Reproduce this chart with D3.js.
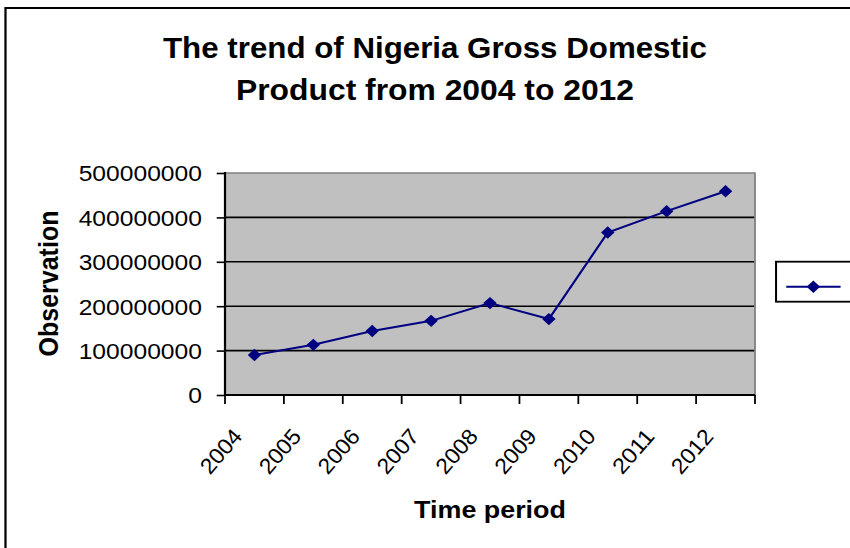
<!DOCTYPE html>
<html>
<head>
<meta charset="utf-8">
<script src="https://cdn.jsdelivr.net/npm/d3@7"></script>
<style>
  html, body { margin: 0; padding: 0; background: #fff; }
  svg { display: block; }
  text { font-family: "Liberation Sans", Arial, sans-serif; fill: #000; }
</style>
</head>
<body>
<div id="chart"></div>
<script>
// Nigeria GDP by year
const years = ["2004", "2005", "2006", "2007", "2008", "2009", "2010", "2011", "2012"];
const gdp = [90000000, 113000000, 144000000, 167000000, 207000000, 171000000, 366000000, 414000000, 459000000];
const yTicks = [0, 100000000, 200000000, 300000000, 400000000, 500000000];
const titleLines = ["The trend of Nigeria Gross Domestic", "Product from 2004 to 2012"];
const xTitle = "Time period";
const yTitle = "Observation";

// The drawing is laid out on a slightly narrower canvas and stretched to fill the window.
const SX = 1.12;
const VW = 850 / SX, VH = 548;
const svg = d3.select("#chart").append("svg")
  .attr("width", 850).attr("height", 548)
  .attr("viewBox", `0 0 ${VW} ${VH}`)
  .attr("preserveAspectRatio", "none");

const plot = { left: 200.9, right: 674.1, top: 173, bottom: 395 };

// chart frame
svg.append("rect")
  .attr("x", 4.9).attr("y", 8).attr("width", 1000).attr("height", 1000)
  .attr("fill", "none").attr("stroke", "#000").attr("stroke-width", 2);

// title
const titleWidths = [485.7, 355.4];
svg.append("g").selectAll("text").data(titleLines).join("text")
  .attr("x", 388.4).attr("y", (d, i) => 58 + i * 42)
  .attr("text-anchor", "middle")
  .attr("font-size", 30).attr("font-weight", "bold")
  .attr("textLength", (d, i) => titleWidths[i])
  .attr("lengthAdjust", "spacingAndGlyphs")
  .text(d => d);

const x = d3.scaleBand().domain(years).range([plot.left, plot.right]).padding(0);
const y = d3.scaleLinear().domain([0, 500000000]).range([plot.bottom, plot.top]);

// plot area
svg.append("rect")
  .attr("x", plot.left).attr("y", plot.top)
  .attr("width", plot.right - plot.left).attr("height", plot.bottom - plot.top)
  .attr("fill", "#C0C0C0");

// gridlines
svg.append("g").selectAll("line").data(yTicks.filter(v => v > 0 && v < 500000000)).join("line")
  .attr("x1", plot.left).attr("x2", plot.right)
  .attr("y1", d => y(d)).attr("y2", d => y(d))
  .attr("stroke", "#000").attr("stroke-width", 1.6);

// plot border top/right
svg.append("path")
  .attr("d", `M${plot.left},${plot.top}H${plot.right}V${plot.bottom}`)
  .attr("fill", "none").attr("stroke", "#808080").attr("stroke-width", 1.6);

// y axis
const yAxis = svg.append("g")
  .attr("transform", `translate(${plot.left},0)`)
  .call(d3.axisLeft(y).tickValues(yTicks).tickSize(7.4).tickPadding(13.2).tickFormat(d3.format("d")));
yAxis.select(".domain").remove();
yAxis.selectAll(".tick line").attr("stroke", "#000").attr("stroke-width", 1.6);
yAxis.selectAll(".tick text")
  .attr("font-size", 22).attr("font-family", "Liberation Sans, Arial, sans-serif")
  .attr("fill", "#000").attr("dy", "0.36em");
svg.append("line")
  .attr("x1", plot.left).attr("x2", plot.left)
  .attr("y1", plot.top - 1).attr("y2", plot.bottom)
  .attr("stroke", "#000").attr("stroke-width", 2);

// x axis: ticks fall between categories
const xEdges = years.map(d => x(d)).concat([x.range()[1]]);
svg.append("g").selectAll("line").data(xEdges).join("line")
  .attr("x1", d => d).attr("x2", d => d)
  .attr("y1", plot.bottom).attr("y2", plot.bottom + 9)
  .attr("stroke", "#000").attr("stroke-width", 1.6);
svg.append("line")
  .attr("x1", plot.left).attr("x2", plot.right)
  .attr("y1", plot.bottom).attr("y2", plot.bottom)
  .attr("stroke", "#000").attr("stroke-width", 2);

// category labels, drawn in unstretched pixel units
svg.append("g")
  .attr("transform", `scale(${1 / SX},1)`)
  .selectAll("text").data(years).join("text")
  .attr("transform", d => `translate(${(x(d) + x.bandwidth() / 2) * SX - 11},437) rotate(-49)`)
  .attr("text-anchor", "end")
  .attr("font-size", 22)
  .attr("textLength", 51)
  .attr("lengthAdjust", "spacingAndGlyphs")
  .text(d => d);

// axis titles
svg.append("text")
  .attr("x", (plot.left + plot.right) / 2).attr("y", 518)
  .attr("text-anchor", "middle")
  .attr("font-size", 24).attr("font-weight", "bold")
  .text(xTitle);
svg.append("text")
  .attr("transform", `translate(51.5,283.5) rotate(-90)`)
  .attr("text-anchor", "middle")
  .attr("font-size", 25).attr("font-weight", "bold")
  .text(yTitle);

// series line and diamond markers
const navy = "#000080";
const cx = (d, i) => x(years[i]) + x.bandwidth() / 2;
svg.append("path")
  .datum(gdp)
  .attr("d", d3.line().x(cx).y(d => y(d)))
  .attr("fill", "none").attr("stroke", navy).attr("stroke-width", 2);

const diamond = "M0,-6.2L6,0L0,6.2L-6,0Z";
svg.append("g").selectAll("path").data(gdp).join("path")
  .attr("transform", (d, i) => `translate(${cx(d, i)},${y(d)})`)
  .attr("d", diamond).attr("fill", navy);

// legend
const lg = svg.append("g");
lg.append("rect")
  .attr("x", 692.9).attr("y", 261.7).attr("width", 120).attr("height", 40)
  .attr("fill", "#fff").attr("stroke", "#000").attr("stroke-width", 1.8);
lg.append("line")
  .attr("x1", 702).attr("x2", 750.5).attr("y1", 286.7).attr("y2", 286.7)
  .attr("stroke", navy).attr("stroke-width", 2);
lg.append("path")
  .attr("transform", "translate(726.2,286.7)")
  .attr("d", diamond).attr("fill", navy);
</script>
</body>
</html>
